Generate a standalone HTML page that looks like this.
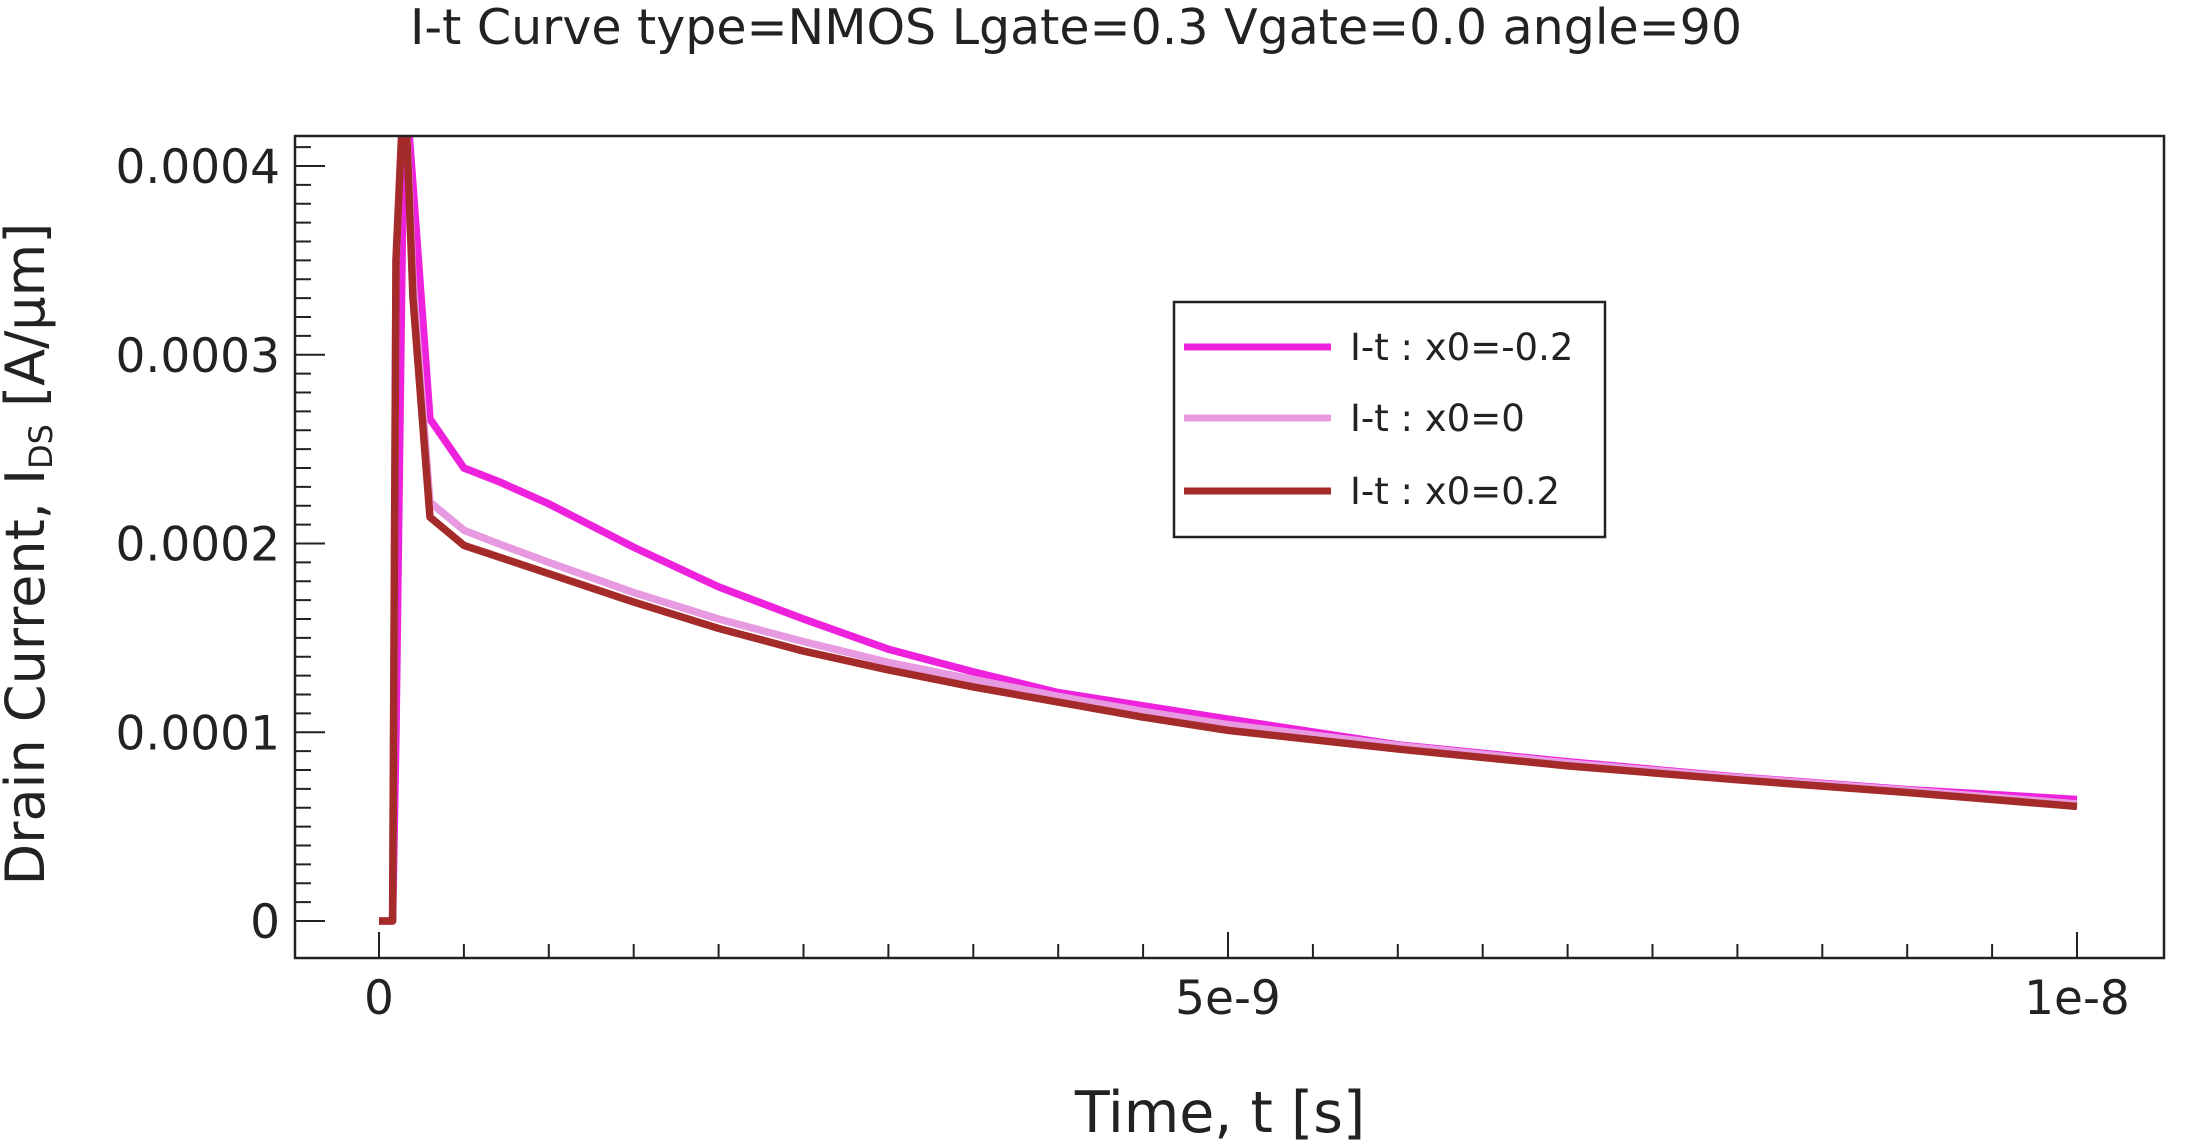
<!DOCTYPE html>
<html><head><meta charset="utf-8"><style>
html,body{margin:0;padding:0;background:#fff;}
svg{display:block;font-family:"DejaVu Sans","Liberation Sans",sans-serif;}
</style></head><body>
<svg id="chart" width="2192" height="1145" viewBox="0 0 2192 1145">
<text x="1076" y="44" font-size="49" text-anchor="middle" fill="#222">I-t Curve type=NMOS Lgate=0.3 Vgate=0.0 angle=90</text>
<defs><clipPath id="pc"><rect x="295" y="136" width="1869" height="822"/></clipPath></defs>
<g id="ticks"></g>
<g id="series" clip-path="url(#pc)"></g>
<rect x="295" y="136" width="1869" height="822" fill="none" stroke="#222" stroke-width="2.5"/>
<text x="1220" y="1132" font-size="57" text-anchor="middle" fill="#222">Time, t [s]</text>
<text transform="translate(44,554) rotate(-90)" font-size="54" text-anchor="middle" fill="#222">Drain Current, I<tspan font-size="32" dy="8">DS</tspan><tspan dy="-8"> [A/µm]</tspan></text>
<g>
<rect x="1174" y="302" width="431" height="235" fill="#fff" stroke="#222" stroke-width="2.5"/>
</g>
<g id="legend-items"></g>
</svg>
<script>
const times=[0,0.08e-9,0.1e-9,0.15e-9,0.2e-9,0.3e-9,0.5e-9,0.7e-9,1e-9,1.5e-9,2e-9,2.5e-9,3e-9,3.5e-9,4e-9,4.5e-9,5e-9,6e-9,7e-9,8e-9,9e-9,1e-8];
const seriesNames=["I-t : x0=-0.2","I-t : x0=0","I-t : x0=0.2"];
const seriesColors=["#ee22dd","#e89ae0","#a52a2a"];
const valsNeg=[0,0,0.0001,0.00045,0.00039,0.000266,0.00024,0.000233,0.000221,0.000198,0.000177,0.00016,0.000144,0.000132,0.000121,0.000114,0.000107,0.0000933,0.0000844,0.0000763,0.0000696,0.0000644];
const valsZero=[0,0,0.00035,0.00045,0.00034,0.000222,0.000207,0.0002,0.00019,0.000174,0.00016,0.000148,0.000137,0.000128,0.000119,0.000111,0.000104,0.000093,0.0000837,0.000076,0.0000693,0.000062];
const valsPos=[0,0,0.00035,0.00045,0.00033,0.000214,0.000199,0.000193,0.000184,0.000169,0.000155,0.000143,0.000133,0.000124,0.000116,0.000108,0.000101,0.0000911,0.0000822,0.0000748,0.0000681,0.0000607];
const xTickVals=[0,5e-9,1e-8];
const xTickLabels=["0","5e-9","1e-8"];
const yTickVals=[0,0.0001,0.0002,0.0003,0.0004];
const yTickLabels=["0","0.0001","0.0002","0.0003","0.0004"];
const NS="http://www.w3.org/2000/svg";
const X=t=>379+(t/1e-8)*(2077-379);
const Y=v=>921-(v/0.0004)*(921-166);
const tg=document.getElementById('ticks');
function ln(x1,y1,x2,y2,g,name){const l=document.createElementNS(NS,'line');l.setAttribute('x1',x1);l.setAttribute('y1',y1);l.setAttribute('x2',x2);l.setAttribute('y2',y2);l.setAttribute('stroke','#222');l.setAttribute('stroke-width','2');


g.appendChild(l);}
function tx(x,y,s,anchor,g,name){const t=document.createElementNS(NS,'text');t.setAttribute('x',x);t.setAttribute('y',y);t.setAttribute('font-size','47');t.setAttribute('fill','#222');t.setAttribute('text-anchor',anchor);t.textContent=s;


g.appendChild(t);}
for(let i=0;i<=20;i++){const t=i*0.5e-9;const major=i%10===0;ln(X(t),958,X(t),958-(major?26:14),tg,major?'x-major-tick':'x-minor-tick');}
xTickVals.forEach((v,i)=>tx(X(v),1014,xTickLabels[i],'middle',tg,'x-tick-label'));
for(let i=0;i<=42;i++){const v=i*0.00001;const y=Y(v);if(y<136)continue;const major=i%10===0;ln(295,y,295+(major?30:16),y,tg,major?'y-major-tick':'y-minor-tick');}
yTickVals.forEach((v,i)=>tx(280,Y(v)+17,yTickLabels[i],'end',tg,'y-tick-label'));
const sg=document.getElementById('series');
const data=[valsNeg,valsZero,valsPos];
[0,1,2].forEach(k=>{const p=document.createElementNS(NS,'polyline');
p.setAttribute('points',times.map((t,i)=>X(t)+','+Y(data[k][i])).join(' '));
p.setAttribute('fill','none');p.setAttribute('stroke',seriesColors[k]);p.setAttribute('stroke-width','7.5');p.setAttribute('stroke-linejoin','round');


sg.appendChild(p);});
const lg=document.getElementById('legend-items');
const ly=[347,418,491];
seriesNames.forEach((n,i)=>{const g=document.createElementNS(NS,'g');


const l=document.createElementNS(NS,'line');l.setAttribute('x1',1184);l.setAttribute('x2',1331);l.setAttribute('y1',ly[i]);l.setAttribute('y2',ly[i]);l.setAttribute('stroke',seriesColors[i]);l.setAttribute('stroke-width','7');g.appendChild(l);
const t=document.createElementNS(NS,'text');t.setAttribute('x',1350);t.setAttribute('y',ly[i]+13);t.setAttribute('font-size','37');t.setAttribute('fill','#222');t.textContent=n;g.appendChild(t);
lg.appendChild(g);});
</script>
</body></html>
